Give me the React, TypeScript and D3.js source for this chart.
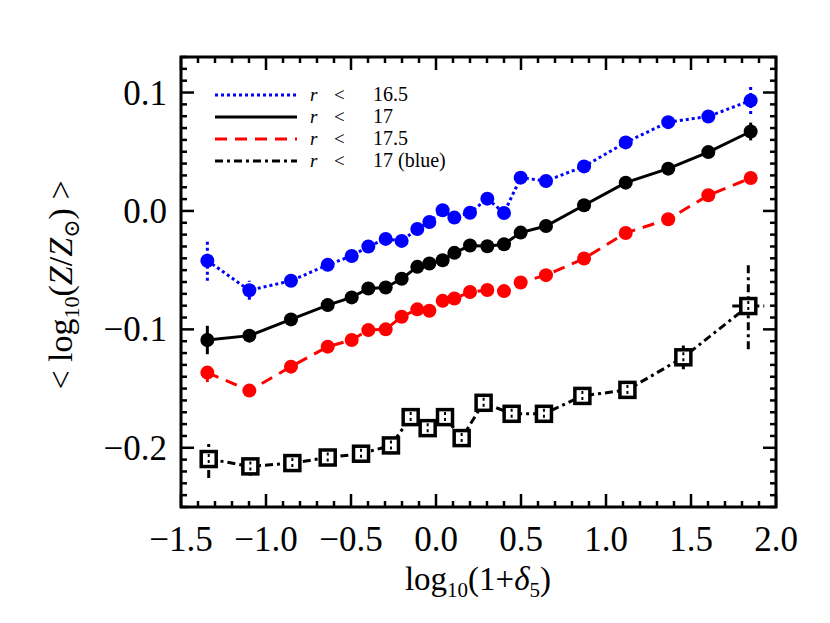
import React from "react";
import * as d3 from "d3";

// bin centres, log10(1+delta5)
const xBins = [-1.345, -1.098, -0.853, -0.637, -0.496, -0.398, -0.296, -0.202, -0.110, -0.039, 0.039, 0.108, 0.200, 0.302, 0.400, 0.498, 0.647, 0.871, 1.116, 1.366, 1.602, 1.851];
const zR165 = [-0.042, -0.067, -0.059, -0.0455, -0.038, -0.030, -0.0236, -0.0253, -0.0152, -0.0093, 0.0006, -0.0056, -0.0015, 0.0104, -0.0017, 0.0281, 0.0253, 0.0376, 0.0579, 0.075, 0.0798, 0.0933];
const eR165 = [0.017, 0.008, 0.003, 0.003, 0.003, 0.003, 0.003, 0.003, 0.003, 0.003, 0.003, 0.003, 0.003, 0.003, 0.003, 0.003, 0.003, 0.003, 0.003, 0.004, 0.004, 0.0115];
const zR17 = [-0.109, -0.1053, -0.0916, -0.0795, -0.073, -0.0655, -0.0646, -0.0573, -0.0472, -0.0444, -0.0416, -0.0354, -0.0292, -0.0298, -0.0281, -0.0183, -0.0127, 0.0048, 0.0239, 0.0357, 0.0497, 0.0671];
const eR17 = [0.012, 0.004, 0.003, 0.003, 0.003, 0.003, 0.003, 0.003, 0.003, 0.003, 0.003, 0.003, 0.003, 0.003, 0.003, 0.003, 0.003, 0.003, 0.003, 0.003, 0.004, 0.0075];
const zR175 = [-0.1365, -0.1517, -0.1315, -0.1146, -0.109, -0.1006, -0.1, -0.0893, -0.0831, -0.0843, -0.0759, -0.0739, -0.0685, -0.0668, -0.0677, -0.0604, -0.0542, -0.0402, -0.0186, -0.007, 0.0132, 0.0278];
const eR175 = [0.008, 0.003, 0.003, 0.003, 0.003, 0.003, 0.003, 0.003, 0.003, 0.003, 0.003, 0.003, 0.003, 0.003, 0.003, 0.003, 0.003, 0.003, 0.003, 0.003, 0.004, 0.005];

// r < 17 blue galaxies
const xBlue = [-1.337, -1.092, -0.845, -0.637, -0.441, -0.265, -0.149, -0.049, 0.053, 0.151, 0.28, 0.445, 0.635, 0.861, 1.126, 1.455, 1.837];
const zBlue = [-0.2095, -0.2157, -0.2129, -0.2082, -0.205, -0.198, -0.1741, -0.1834, -0.1741, -0.1918, -0.162, -0.1713, -0.1713, -0.1562, -0.1511, -0.1236, -0.0803];
const eBlue = [0.016, 0.008, 0.005, 0.005, 0.004, 0.004, 0.004, 0.004, 0.004, 0.005, 0.004, 0.004, 0.004, 0.004, 0.004, 0.010, 0.0365];
const xeBlue = [0, 0, 0, 0, 0, 0, 0, 0, 0, 0, 0, 0, 0, 0, 0, 0, 0.094];

const xTicks = [-1.5, -1.0, -0.5, 0.0, 0.5, 1.0, 1.5, 2.0];
const yTicks = [-0.2, -0.1, 0.0, 0.1];
const legendLabels = ["16.5", "17", "17.5", "17 (blue)"];

const FONT = "'Liberation Serif', 'DejaVu Serif', serif";
const DOT = "3,3";
const DASH = "12,8";
const DASHDOT = "8,4,3,4";

const series = [
  { label: "16.5", xs: xBins, ys: zR165, es: eR165, color: "#0000ff", dash: DOT },
  { label: "17", xs: xBins, ys: zR17, es: eR17, color: "#000000", dash: "" },
  { label: "17.5", xs: xBins, ys: zR175, es: eR175, color: "#ff0000", dash: DASH },
];

export default function App() {
  const x = d3.scaleLinear().domain([-1.5, 2.0]).range([181, 776]);
  const y = d3.scaleLinear().domain([-0.25, 0.13]).range([507, 57]);
  const [x0, x1] = x.range();
  const [yb, yt] = y.range();
  const fmt = d3.format(".1f");

  const xMinor = d3.range(-15, 21).map((i) => i / 10).filter((v) => !xTicks.some((t) => Math.abs(t - v) < 1e-6));
  const yMinor = d3.range(-25, 14).map((i) => i / 100).filter((v) => !yTicks.some((t) => Math.abs(t - v) < 1e-6));

  const line = d3.line<[number, number]>().x((d) => x(d[0])).y((d) => y(d[1]));

  const legendStyles = [
    { color: "#0000ff", dash: DOT },
    { color: "#000", dash: "" },
    { color: "#ff0000", dash: DASH },
    { color: "#000", dash: DASHDOT },
  ];

  return (
    <svg width={830} height={623} style={{ position: "absolute", left: 0, top: 0, background: "#fff" }} fontFamily={FONT}>
      <rect width={830} height={623} fill="#fff" />

      {/* ticks */}
      <g stroke="#000" strokeWidth={2.5}>
        {xTicks.map((t) => (
          <g key={"xt" + t}>
            <line x1={x(t)} x2={x(t)} y1={yb} y2={yb - 13} />
            <line x1={x(t)} x2={x(t)} y1={yt} y2={yt + 13} />
          </g>
        ))}
        {xMinor.map((t) => (
          <g key={"xm" + t}>
            <line x1={x(t)} x2={x(t)} y1={yb} y2={yb - 6} />
            <line x1={x(t)} x2={x(t)} y1={yt} y2={yt + 6} />
          </g>
        ))}
        {yTicks.map((t) => (
          <g key={"yt" + t}>
            <line x1={x0} x2={x0 + 13} y1={y(t)} y2={y(t)} />
            <line x1={x1} x2={x1 - 13} y1={y(t)} y2={y(t)} />
          </g>
        ))}
        {yMinor.map((t) => (
          <g key={"ym" + t}>
            <line x1={x0} x2={x0 + 6} y1={y(t)} y2={y(t)} />
            <line x1={x1} x2={x1 - 6} y1={y(t)} y2={y(t)} />
          </g>
        ))}
      </g>
      <rect x={x0} y={yt} width={x1 - x0} height={yb - yt} fill="none" stroke="#000" strokeWidth={3} />

      {/* tick labels */}
      <g fontSize={35} fill="#000">
        {xTicks.map((t) => (
          <text key={"xl" + t} x={x(t)} y={551} textAnchor="middle">{fmt(t)}</text>
        ))}
        {yTicks.map((t) => (
          <text key={"yl" + t} x={167} y={y(t) + 12} textAnchor="end">{fmt(t)}</text>
        ))}
      </g>

      {/* axis titles */}
      <text x={478} y={590} fontSize={33} textAnchor="middle">
        log<tspan fontSize={21} dy={7}>10</tspan><tspan dy={-7}>(1+</tspan><tspan fontStyle="italic">δ</tspan><tspan fontSize={21} dy={7}>5</tspan><tspan dy={-7}>)</tspan>
      </text>
      <text transform="translate(72,285) rotate(-90)" fontSize={34} textAnchor="middle">
        {"<  log"}<tspan fontSize={22} dy={7}>10</tspan><tspan dy={-7}>(</tspan><tspan fontStyle="italic">Z</tspan>/<tspan fontStyle="italic">Z</tspan><tspan fontSize={22} dy={7}>⊙</tspan><tspan dy={-7}>{")  >"}</tspan>
      </text>

      {/* circle series */}
      {series.map((s) => {
        const pts = s.xs.map((v, i) => [v, s.ys[i]] as [number, number]);
        return (
          <g key={s.label}>
            <path d={line(pts) || ""} fill="none" stroke={s.color} strokeWidth={3} strokeDasharray={s.dash} />
            {pts.map((p, i) => (
              <line key={"e" + i} x1={x(p[0])} x2={x(p[0])} y1={y(p[1] - s.es[i])} y2={y(p[1] + s.es[i])} stroke={s.color} strokeWidth={3} strokeDasharray={s.dash} />
            ))}
            {pts.map((p, i) => (
              <circle key={"c" + i} cx={x(p[0])} cy={y(p[1])} r={7} fill={s.color} />
            ))}
          </g>
        );
      })}

      {/* blue-galaxy squares */}
      <g>
        <path d={line(xBlue.map((v, i) => [v, zBlue[i]] as [number, number])) || ""} fill="none" stroke="#000" strokeWidth={3} strokeDasharray={DASHDOT} />
        {xBlue.map((v, i) => (
          <g key={"sq" + i} stroke="#000" strokeWidth={3} strokeDasharray={DASHDOT}>
            <line x1={x(v)} x2={x(v)} y1={y(zBlue[i] - eBlue[i])} y2={y(zBlue[i] + eBlue[i])} />
            {xeBlue[i] > 0 && <line x1={x(v - xeBlue[i])} x2={x(v + xeBlue[i])} y1={y(zBlue[i])} y2={y(zBlue[i])} />}
          </g>
        ))}
        {xBlue.map((v, i) => (
          <g key={"sm" + i}>
            <rect x={x(v) - 7.5} y={y(zBlue[i]) - 7.5} width={15} height={15} fill="#fff" stroke="#000" strokeWidth={3.5} />
            <line x1={x(v)} x2={x(v)} y1={y(zBlue[i]) - 5} y2={y(zBlue[i]) + 5} stroke="#000" strokeWidth={2} strokeDasharray="3,3" />
          </g>
        ))}
      </g>

      {/* legend */}
      <g fontSize={19}>
        {legendLabels.map((lab, i) => (
          <g key={lab}>
            <line x1={215} x2={297} y1={95 + i * 22} y2={95 + i * 22} stroke={legendStyles[i].color} strokeWidth={3} strokeDasharray={legendStyles[i].dash} />
            <text x={310} y={101 + i * 22}>
              <tspan fontStyle="italic">r</tspan>
              <tspan x={334}>&lt;</tspan>
              <tspan x={373} fontSize={20}>{lab}</tspan>
            </text>
          </g>
        ))}
      </g>
    </svg>
  );
}
